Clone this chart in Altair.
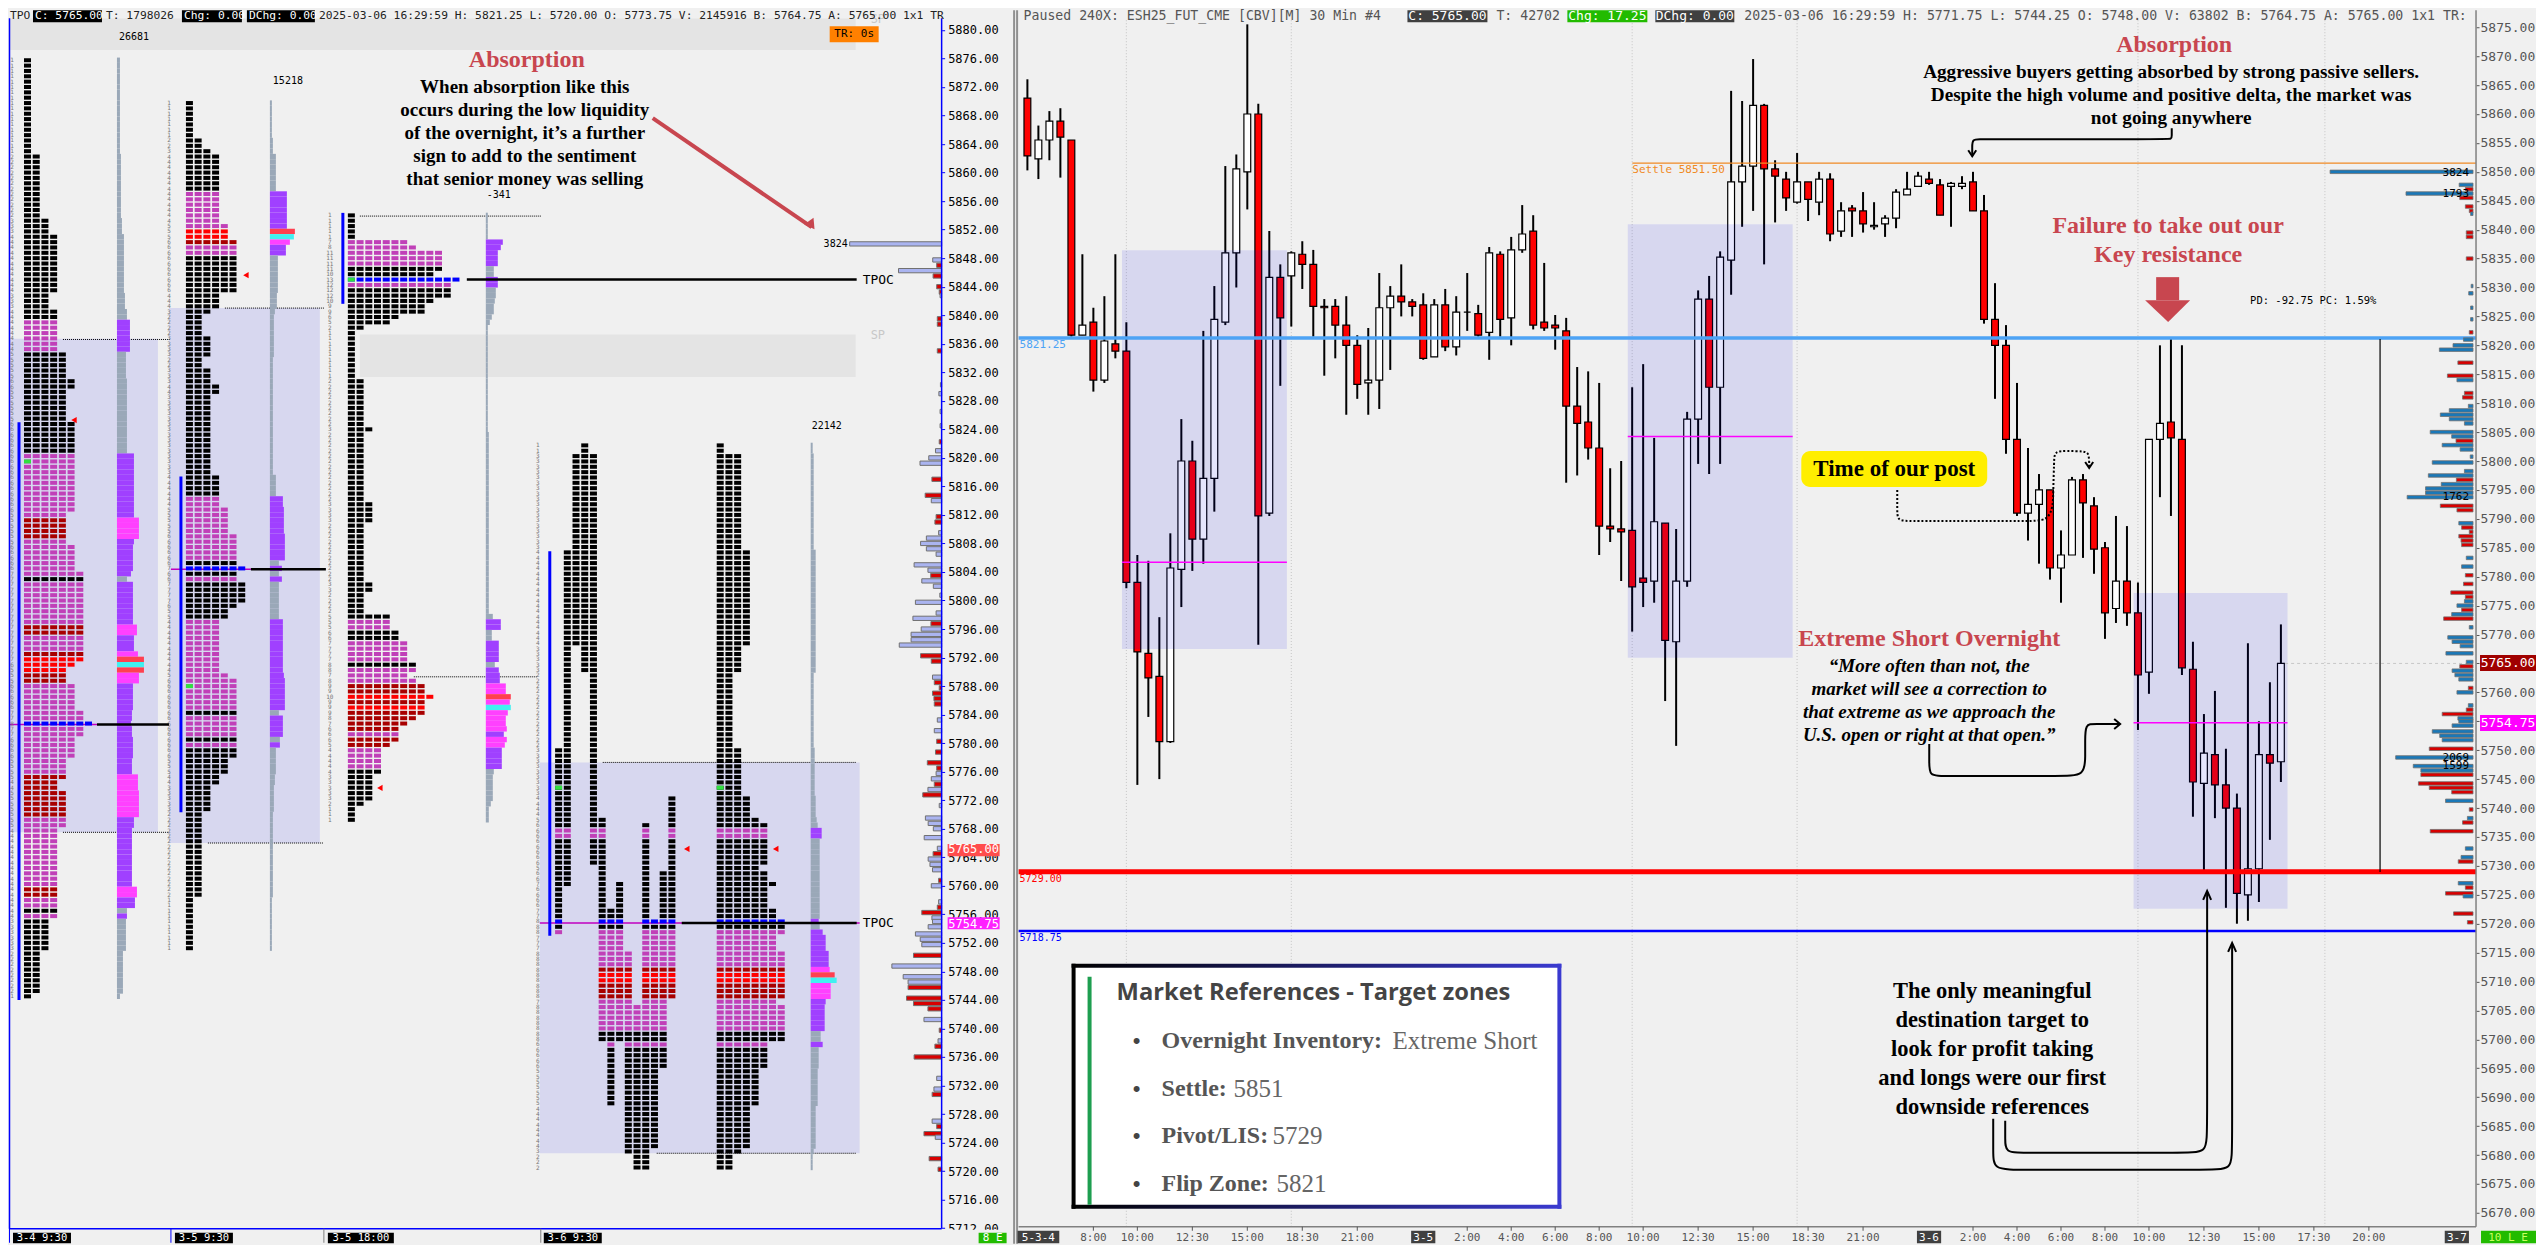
import altair as alt
import pandas as pd

alt.data_transformers.disable_max_rows()

# ---------------- candles (ESH25, 30 min) ----------------
highs = [5866,5858,5860.5,5861,5855.5,5835.75,5826.5,5828.5,5835.75,5824,5783.75,5782.75,5773,5787.5,5807.25,5803.5,5822.5,5830.25,5851,5853,
5875.5,5861.75,5839.75,5834,5836.25,5838,5836.5,5828,5828,5828.5,5821.75,5823,5832.5,5830.25,5834,5828,5829,5828,5829.75,5828.5,
5832.5,5827,5837,5836.25,5838.75,5844.25,5842.5,5834.25,5825.25,5824.75,5816.25,5815.5,5813.5,5798.75,5800,5812.75,5816.75,5804,5789.25,5788.25,
5808.5,5829.5,5832,5836.25,5864,5862.25,5869.5,5861.75,5852,5850,5853.25,5848.25,5850,5849.75,5844.75,5844.25,5846.5,5844.75,5842.5,5847,
5850,5850,5850,5848.75,5848.25,5849.25,5850,5846,5830.75,5823.5,5813.5,5802.25,5797.75,5795,5788,5797.25,5797.75,5793.75,5786,5790.5,
5788.75,5779,5803.75,5820,5821.25,5820,5768.75,5756.25,5760.25,5750.25,5742.5,5768.5,5755,5761.75,5771.75]
lows = [5850.25,5848.75,5852,5849,5821.5,5821.75,5812,5813.5,5817.75,5778,5744,5755.75,5745,5751.25,5774.75,5781,5782.25,5791.25,5823.5,5830,
5843.5,5768.25,5790.5,5813,5823.25,5829.75,5821.5,5814.75,5817.75,5808,5810.75,5808,5809,5815.75,5825,5825,5817.5,5818,5819,5818.25,
5822.5,5821.5,5817.5,5821.5,5820,5836,5822.75,5822.5,5819.25,5796.25,5797.5,5800.25,5783.75,5786,5779.25,5770.5,5774.75,5775.5,5758.5,5750.75,
5778.25,5799.5,5797.75,5799.5,5828.75,5840.5,5843.25,5834,5841.25,5843.25,5844.5,5841.5,5842.5,5838,5838.75,5838.75,5839.5,5840,5838.75,5840.25,
5846,5847.5,5847.75,5842.5,5840.5,5847,5843.25,5823.75,5810.75,5801.25,5790.5,5786.25,5782.25,5779.5,5775.5,5783.75,5783.25,5780.5,5769.25,5772,
5771.5,5753.5,5759.75,5793.75,5790.5,5763,5738.5,5729.25,5738.25,5722.75,5720,5720.5,5723.75,5734.5,5744.5]
opens = [5862.75,5852.25,5855.5,5858.75,5855.5,5821.75,5824,5814,5820.25,5819,5779,5766.75,5762.75,5751.5,5781.25,5800,5786.5,5797,5824,5836,
5850,5860,5791,5831.75,5832,5835.75,5834,5826.75,5826.75,5823.5,5820,5813.5,5814,5826.5,5828.5,5827.5,5827,5818,5827,5819.75,
5825.75,5825.5,5822.25,5835.75,5824.75,5836.5,5839.75,5824,5823.5,5822.5,5809.5,5806.75,5802.25,5788.75,5788.25,5788,5779.75,5779.25,5789.25,5768.75,
5779.25,5807.25,5828,5812.75,5834.75,5848.25,5851,5861.5,5850.5,5848.75,5844.75,5848.25,5844.75,5848.75,5839.75,5843.75,5843.25,5840.5,5841,5842,
5846,5847.5,5848.75,5847.75,5847.5,5847.5,5848.25,5843.25,5824.5,5820,5803.75,5791,5792.5,5795,5781.5,5783.75,5796.75,5792.25,5785,5774.5,
5779.25,5773.75,5763.5,5803.75,5806.75,5803.75,5764,5744.25,5749.25,5744,5740,5725,5729.5,5749.25,5748]
closes = [5852.75,5855.5,5858.75,5856,5821.75,5823.5,5814,5820.75,5819,5779,5767,5762.5,5751.5,5781.5,5800,5786.5,5797,5824.5,5836,5850.5,
5860,5790.5,5831.75,5824.75,5836,5834,5826.75,5826.5,5823.5,5820,5813.25,5814,5826.5,5828.5,5827.5,5826.75,5817.75,5827,5819.75,5825.75,
5825.75,5821.75,5836,5824.5,5836.5,5839.25,5823.5,5823,5823,5809.5,5806.5,5802.25,5788.75,5788.25,5787.75,5778.25,5779,5789.5,5769,5779.25,
5807.25,5828,5812.75,5835.25,5848.25,5851,5861.5,5850.5,5849.25,5845.5,5848.25,5845.25,5848.75,5839.25,5843.25,5843.25,5841,5840.75,5842,5846.5,
5847,5849.25,5848,5842.5,5848,5848,5843.25,5824.5,5820,5803.75,5791,5792.5,5795,5781.5,5783.75,5796.75,5792.75,5784.75,5773.75,5779.25,
5773.75,5763,5803.75,5806.5,5804,5764.25,5744.5,5749.5,5744,5740,5725.25,5729.5,5749.25,5747.75,5765]

# ---------------- volume by price (both panels) ----------------
vol_prices = [5850,5847.75,5847,5846.25,5845.5,5844,5843.25,5842.75,5839.5,5838.75,5835,5830.25,5829,5826.5,5824.5,5822.25,5821,5820,5819.25,5817,
5814.75,5814,5811.75,5811,5809.5,5808.75,5808,5807.25,5806.5,5805,5804.25,5803.5,5802.75,5802,5800.75,5799.75,5798.25,5797.5,5796.75,5796,
5795.25,5794.5,5793.75,5792.25,5791.5,5789.25,5788.5,5787.75,5787,5786.25,5785.5,5783.25,5781.75,5780.25,5778.75,5777.25,5776.5,5775.75,5775,5774.25,
5773.5,5772.75,5771.25,5769.5,5768.75,5768,5766.75,5765.25,5764.5,5763.75,5763,5762.25,5760.75,5760,5757.75,5757,5756.25,5755.5,5755,5754.25,
5753.25,5752.5,5751.75,5750.25,5748.75,5747.25,5746.5,5745.75,5744.25,5743.5,5742.75,5741.25,5739.75,5738.25,5737.5,5736,5733,5731.5,5730.75,5727,
5726.25,5725.25,5724.75,5721.75,5720.25]
vol_sizes = [3824,370,205,1793,355,205,100,65,180,180,180,50,115,65,65,100,255,535,900,405,
685,430,230,280,125,635,875,635,230,1145,570,455,825,345,75,1090,230,1195,445,850,
1270,1270,1762,875,430,380,305,100,380,320,305,180,305,205,255,595,205,230,430,305,
570,785,100,675,560,345,725,180,355,560,485,380,125,430,125,180,825,405,380,560,
1090,890,825,1170,2069,1599,1395,1395,1460,1170,570,735,100,150,280,1145,205,320,395,395,
205,735,265,520,150]
vol_sides = ['b','b','r','b','r','r','r','b','r','r','r','b','b','b','b','r','b','b','b','r',
'r','b','r','r','b','b','b','b','b','b','b','r','b','b','b','b','b','b','r','b',
'b','b','b','r','r','b','r','r','r','r','r','b','b','r','r','r','r','b','b','r',
'b','r','b','b','b','b','b','b','r','b','b','b','r','b','b','r','r','b','b','b',
'b','b','b','r','b','b','b','r','r','r','r','b','r','b','r','r','b','b','r','b',
'r','r','b','r','r']

# ---------------- TPO profiles: (rows, letters wide, colour key, volume width) ----------------
runs_a = [(18,1,'k',3),(12,2,'k',4),(3,3,'k',5),(11,4,'k',7),(3,3,'k',8),(2,4,'k',10),(6,4,'p',13),(5,5,'k',9),(2,6,'k',10),(6,5,'k',10),(6,6,'k',10),
(11,6,'p',17),(1,5,'p',17),(4,5,'d',22),(1,5,'p',17),(5,6,'p',16),(1,7,'p',14),(1,7,'k',10),(8,7,'p',16),(2,7,'d',20),(3,7,'p',17),(1,7,'d',21),(1,7,'r',27),(1,6,'c',27),(1,5,'r',27),(2,5,'d',22),
(5,6,'p',16),(2,7,'p',15),(1,8,'b',14),(2,7,'p',15),(4,6,'p',16),(3,5,'p',15),(1,5,'d',21),(2,4,'d',21),(5,5,'d',22),(2,5,'p',17),(11,4,'p',15),(2,4,'d',20),(2,4,'p',18),(1,4,'k',10),(1,4,'p',10),(6,3,'k',9),(8,2,'k',6),(1,1,'k',3)]
runs_b = [(7,1,'k',2),(2,2,'k',3),(1,3,'k',3),(7,4,'k',6),(6,4,'p',17),(1,5,'p',17),(1,5,'r',25),(1,5,'c',24),(1,6,'d',20),(2,6,'p',16),(7,6,'k',8),(3,4,'k',7),(1,3,'k',5),(4,2,'k',4),(4,3,'k',4),(2,2,'k',3),(3,3,'k',3),(2,4,'k',3),(15,3,'k',3),(4,4,'k',6),
(2,4,'p',13),(5,5,'p',14),(5,6,'p',15),(1,6,'k',9),(1,7,'b',12),(1,6,'k',9),(1,6,'p',12),(4,7,'k',9),(1,6,'k',9),(2,5,'k',9),(10,4,'p',13),(1,5,'p',14),(6,6,'p',15),(1,6,'k',9),(4,6,'p',13),(1,6,'k',10),(1,6,'p',10),(2,6,'k',6),(3,5,'k',6),(2,4,'k',5),(5,3,'k',4),(16,2,'k',3),(10,1,'k',2)]
runs_c = [(5,1,'k',2),(1,7,'p',17),(1,8,'p',15),(3,11,'p',12),(1,11,'k',8),(1,10,'k',8),(1,13,'b',12),(1,12,'p',12),(2,12,'k',10),(1,10,'k',9),(2,9,'k',8),(1,6,'k',6),(1,5,'k',4),(1,2,'k',2),(9,1,'k',2),(9,2,'k',2),(1,3,'k',2),(13,2,'k',3),(4,3,'k',3),(11,2,'k',3),(2,3,'k',3),(4,2,'k',3),(1,5,'k',7),
(2,5,'p',15),(2,6,'k',6),(4,7,'p',13),(1,8,'k',9),(1,8,'p',13),(1,7,'p',14),(1,8,'p',14),(2,9,'d',20),(1,10,'r',25),(1,9,'d',24),(1,9,'c',25),(1,9,'d',22),(1,8,'d',20),(1,7,'d',20),(1,6,'d',21),(1,6,'p',18),(1,6,'d',21),(1,5,'d',19),(4,4,'p',16),(1,4,'k',8),(5,3,'k',7),(1,2,'k',5),(3,1,'k',3)]
runs_d = [(2,1,'k',2),(18,3,'k',3),(18,4,'k',5),(5,3,'k',5),(14,2,'k',3),(9,3,'k',4),(4,4,'k',5),(1,5,'k',6),(1,6,'k',7),(2,6,'p',11),(5,6,'k',9),(1,5,'k',9),(2,6,'k',9),(1,7,'k',9),(4,6,'k',9),(2,7,'k',9),(1,8,'b',8),(1,8,'k',9),(1,8,'p',12),(3,7,'p',15),(3,8,'p',18),
(1,8,'d',19),(1,8,'r',24),(1,8,'c',26),(3,8,'d',20),(1,7,'p',15),(5,8,'p',14),(2,8,'k',10),(1,6,'p',12),(4,6,'k',8),(7,5,'k',7),(8,4,'k',5),(1,3,'k',3),(3,2,'k',2)]
# split profile of the 3-6 session: (rows, occupied columns, colour key)
split_d = [(2,[3],'k'),(18,[2,3,4],'k'),(18,[1,2,3,4],'k'),(5,[1,3,4],'k'),(14,[1,4],'k'),(9,[0,1,4],'k'),(4,[0,1,4,13],'k'),(1,[0,1,4,5,13],'k'),(1,[0,1,4,5,10,13],'k'),
(2,[0,1,4,5,10,13],'p'),(5,[0,1,4,5,10,13],'k'),(1,[0,1,5,10,13],'k'),(2,[0,1,5,10,12,13],'k'),(1,[0,1,5,7,10,12,13],'k'),(4,[0,5,7,10,12,13],'k'),(2,[0,5,6,7,10,12,13],'k'),
(1,[0,5,6,7,10,11,12,13],'b'),(1,[0,5,6,7,10,11,12,13],'k'),(1,[0,5,6,7,10,11,12,13],'p'),(3,[5,6,7,10,11,12,13],'p'),(3,[5,6,7,8,10,11,12,13],'p'),
(1,[5,6,7,8,10,11,12,13],'d'),(2,[5,6,7,8,10,11,12,13],'r'),(3,[5,6,7,8,10,11,12,13],'d'),(1,[5,6,7,8,10,11,12],'p'),(5,[5,6,7,8,9,10,11,12],'p'),(2,[5,6,7,8,9,10,11,12],'k'),
(1,[6,8,9,10,11,12],'p'),(4,[6,8,9,10,11,12],'k'),(7,[6,8,9,10,11],'k'),(8,[8,9,10,11],'k'),(1,[8,9,10],'k'),(3,[9,10],'k')]

TPO_COL = {'k':'#000000','p':'#c040b8','d':'#a80000','r':'#ff0000','c':'#ff0000','b':'#0000ff'}
VOL_COL = {'k':'#9aa8b8','p':'#a040ff','d':'#ff40ff','r':'#ff4050','c':'#40f0f0','b':'#a040ff'}
LETTER = 8.72

cells, numbers, volbars = [], [], []
def add_runs(runs, top, x0, numx, volx):
    p = top
    for n, w, key, v in runs:
        for _ in range(n):
            for k in range(w):
                cells.append(dict(x=x0+k*LETTER, x2=x0+k*LETTER+7, y=p+.28, y2=p-.28, c=TPO_COL[key]))
            if numx is not None:
                numbers.append(dict(x=numx, y=p, t=str(w)))
            volbars.append(dict(x=volx, x2=volx+v, y=p+.375, y2=p-.375, c=VOL_COL[key]))
            p -= .75
add_runs(runs_a, 5875.75, 23, 11, 116)
add_runs(runs_b, 5869.75, 185, 168, 269)
add_runs(runs_c, 5854.0, 347, 329, 485)
add_runs(runs_d, 5821.75, 716, None, 810)
p = 5821.75
for n, cols, key in split_d:
    for _ in range(n):
        for k in cols:
            cells.append(dict(x=554.3+k*LETTER, x2=554.3+k*LETTER+7, y=p+.28, y2=p-.28, c=TPO_COL[key]))
        numbers.append(dict(x=537, y=p, t=str(len(cols))))
        p -= .75
green = [(23,5819.5),(185,5788),(347,5845),(554.3,5773.75),(716,5773.75)]
for gx, gp in green:
    cells.append(dict(x=gx, x2=gx+7, y=gp+.28, y2=gp-.28, c='#30e040'))

# ---------------- scales ----------------
LX = (8, 1010); LY = (5880-(1242-27.7)/7.135, 5880-(8-27.7)/7.135)
RX = ((1010-1026.8)/11, (2536-1026.8)/11); RY = (5875-(1242-25)/5.786, 5875-(8-25)/5.786)

class Panel:
    def __init__(s, xd, yd, fx, fy, yaxis):
        s.xs = alt.Scale(domain=list(xd), nice=False, zero=False)
        s.ys = alt.Scale(domain=list(yd), nice=False, zero=False)
        s.fx, s.fy, s.layers, s.yaxis = fx, fy, [], yaxis
    def X(s, f='x'): return alt.X(f+':Q', scale=s.xs, axis=None, title=None)
    def Y(s, f='y'): return alt.Y(f+':Q', scale=s.ys, axis=s.yaxis, title=None)
    def add(s, c): s.layers.append(c)
    # rectangle from corner positions given on the panel's pixel grid
    def rect(s, x0, y0, x1, y1, color, **kw):
        d = pd.DataFrame([dict(x=s.fx(x0), x2=s.fx(x1), y=s.fy(y0), y2=s.fy(y1))])
        s.add(alt.Chart(d).mark_rect(color=color, **kw).encode(x=s.X(), x2='x2:Q', y=s.Y(), y2='y2:Q'))
    def band(s, x0, x1, p0, p1, color, **kw):
        d = pd.DataFrame([dict(x=s.fx(x0), x2=s.fx(x1), y=p0, y2=p1)])
        s.add(alt.Chart(d).mark_rect(color=color, **kw).encode(x=s.X(), x2='x2:Q', y=s.Y(), y2='y2:Q'))
    def hline(s, x0, x1, price, color, width=1, dash=None):
        kw = dict(strokeDash=dash) if dash else {}
        d = pd.DataFrame([dict(x=s.fx(x0), x2=s.fx(x1), y=price)])
        s.add(alt.Chart(d).mark_rule(color=color, strokeWidth=width, **kw).encode(x=s.X(), x2='x2:Q', y=s.Y()))
    def vline(s, x, y0, y1, color, width=1, dash=None):
        kw = dict(strokeDash=dash) if dash else {}
        d = pd.DataFrame([dict(x=s.fx(x), y=s.fy(y0), y2=s.fy(y1))])
        s.add(alt.Chart(d).mark_rule(color=color, strokeWidth=width, **kw).encode(x=s.X(), y=s.Y(), y2='y2:Q'))
    def path(s, pts, color='#000000', width=2, dash=None, interp='linear'):
        d = pd.DataFrame([dict(x=s.fx(a), y=s.fy(b), i=i) for i, (a, b) in enumerate(pts)])
        kw = dict(strokeDash=dash) if dash else {}
        s.add(alt.Chart(d).mark_line(color=color, strokeWidth=width, interpolate=interp, **kw).encode(x=s.X(), y=s.Y(), order='i:Q'))
    def text(s, rows, font='DejaVu Sans Mono', size=11, color='#000000', align='left', weight='normal', style='normal'):
        d = pd.DataFrame([dict(x=s.fx(a), y=s.fy(b), t=t) for a, b, t in rows])
        s.add(alt.Chart(d).mark_text(font=font, fontSize=size, color=color, align=align, baseline='middle',
                                     fontWeight=weight, fontStyle=style).encode(x=s.X(), y=s.Y(), text='t:N'))

ly_ticks = list(range(5880, 5708, -4))
ry_ticks = list(range(5875, 5665, -5))
L = Panel(LX, LY, lambda x: x, lambda y: 5880-(y-27.7)/7.135,
          alt.Axis(orient='right', offset=-69, values=ly_ticks, format='.2f', grid=False, domain=False, tickColor='#0000ff', tickSize=3,
                   labelColor='#000000', labelFont='DejaVu Sans Mono', labelFontSize=12, labelPadding=3, labelOverlap=False, labelFlush=False))
R = Panel(RX, RY, lambda x: (x-1026.8)/11, lambda y: 5875-(y-25)/5.786,
          alt.Axis(orient='right', offset=-60, values=ry_ticks, format='.2f', grid=False, domain=False, tickColor='#555555', tickSize=3,
                   labelColor='#555555', labelFont='DejaVu Sans Mono', labelFontSize=13, labelPadding=1, labelOverlap=False, labelFlush=False))
SERIF = 'Liberation Serif'
RED = '#c8464f'
FILLCELL = alt.Color('c:N', scale=None)

# ---------------- left panel ----------------
L.band(8, 855, 5881.6, 5877.2, '#e4e4e4')
L.band(359, 855, 5837.3, 5831.35, '#e4e4e4')
for x0, x1, p0, p1 in [(8,157,5836.7,5767.5),(168,319,5841,5766),(539,859,5777.3,5722.5)]:
    L.band(x0, x1, p0, p1, '#0000f0', opacity=.1)
for x0, x1, pr in [(62,170,5836.6),(62,168,5767.5),(224,323,5841),(207,323,5766),(359,540,5853.9),(413,537,5789.3),(602,856,5777.3),(656,856,5722.5)]:
    L.hline(x0, x1, pr, '#000000', 1, [1,1])
L.hline(8, 96, 5782.6, '#c000c0', 1.5)
L.hline(170, 250, 5804.4, '#c000c0', 1.5)
L.hline(539, 859, 5754.8, '#c000c0', 1.5)
L.add(alt.Chart(pd.DataFrame(cells)).mark_rect().encode(x=L.X(), x2='x2:Q', y=L.Y(), y2='y2:Q', color=FILLCELL))
L.add(alt.Chart(pd.DataFrame(volbars)).mark_rect().encode(x=L.X(), x2='x2:Q', y=L.Y(), y2='y2:Q', color=FILLCELL))
L.add(alt.Chart(pd.DataFrame(numbers)).mark_text(fontSize=6, color='#777777', font='DejaVu Sans Mono').encode(x=L.X(), y=L.Y(), text='t:N'))
for x, p0, p1 in [(18,5825,5744),(180,5817.4,5770.3),(342,5854.35,5841.6),(549,5806.9,5753)]:
    d = pd.DataFrame([dict(x=x, y=p0, y2=p1)])
    L.add(alt.Chart(d).mark_rule(color='#0000ff', strokeWidth=3).encode(x=L.X(), y=L.Y(), y2='y2:Q'))
for x0, x1, pr in [(96,168,5782.6),(250,325,5804.4),(466,856,5845),(681,856,5754.8)]:
    L.hline(x0, x1, pr, '#000000', 2.5)
L.text([(862,277.5,'TPOC'),(862,921,'TPOC')], size=13)
tri = pd.DataFrame([dict(x=245,y=L.fy(273)),dict(x=379,y=L.fy(786)),dict(x=686,y=L.fy(847)),dict(x=775,y=L.fy(847)),dict(x=73,y=L.fy(418))])
L.add(alt.Chart(tri).mark_point(shape='triangle-left', filled=True, color='#ff0000', size=40, opacity=1).encode(x=L.X(), y=L.Y()))
L.text([(133,35,'26681'),(287,79,'15218'),(498,193,'-341'),(826,424,'22142')], size=10, align='center')
L.text([(847,242,'3824')], size=10, align='right')
L.text([(870,333,'SP'),(870,17,'SP')], size=12, color='#c8c8c8')
# volume by price on the left panel
vol = pd.DataFrame({'p': vol_prices, 'v': vol_sizes, 's': vol_sides})
vl = pd.DataFrame({'x': 941-vol.v*92/3824, 'x2': 941, 'y': vol.p+.3, 'y2': vol.p-.3,
                   'c': ['#aab4f0' if s == 'b' else '#d80000' for s in vol.s]})
L.add(alt.Chart(vl).mark_rect(stroke='#707070', strokeWidth=1).encode(x=L.X(), x2='x2:Q', y=L.Y(), y2='y2:Q', color=FILLCELL))
# annotation
L.text([(526,58,'Absorption')], font=SERIF, size=24, color=RED, align='center', weight='bold')
L.text([(524,85,'When absorption like this'),(524,108,'occurs during the low liquidity'),(524,131,'of the overnight, it’s a further'),
        (524,154,'sign to add to the sentiment'),(524,177,'that senior money was selling')], font=SERIF, size=19, align='center', weight='bold')
L.path([(652,116),(811,225)], color=RED, width=4)
L.add(alt.Chart(pd.DataFrame([dict(x=811,y=L.fy(223))])).mark_point(shape='triangle-up', angle=145, filled=True, color=RED, size=130, opacity=1).encode(x=L.X(), y=L.Y()))
# chrome
L.vline(941, 16, 1227, '#0000ff', 1.5)
L.vline(8.5, 16, 1227, '#0000ff', 1.5)
L.rect(8, 1228, 1010, 1242, '#f0f0f0')
L.hline(8, 941, L.fy(1227), '#0000ff', 1.5)
for x, c in [(8.5,'#0000ff'),(170,'#0000ff'),(323,'#808080'),(540,'#808080')]:
    L.vline(x, 1227, 1241, c, 1)
for x0, x1, t in [(12,70,'3-4 9:30'),(174,232,'3-5 9:30'),(327,393,'3-5 18:00'),(543,601,'3-6 9:30')]:
    L.rect(x0, 1231, x1, 1241.5, '#000000')
    L.text([((x0+x1)/2, 1236, t)], size=10.5, color='#ffffff', align='center')
L.rect(978, 1231, 1006, 1241.5, '#22bb00')
L.text([(992,1236,'8 E')], size=11, color='#ffffff', align='center')
L.rect(829, 24, 878, 40, '#ff8000')
L.text([(853.5,32,'TR: 0s')], size=11, align='center')
for x0, x1 in [(32,101),(181,241),(246,314)]:
    L.rect(x0, 8, x1, 20, '#000000')
L.text([(9,14,'TPO'),(105,14,'T: 1798026'),(318,14,'2025-03-06 16:29:59 H: 5821.25 L: 5720.00 O: 5773.75 V: 2145916 B: 5764.75 A: 5765.00 1x1 TR')], size=11.3, color='#222222')
L.text([(34,14,'C: 5765.00'),(183,14,'Chg: 0.00'),(248,14,'DChg: 0.00')], size=11.3, color='#ffffff')
L.band(947, 999, 5765+.85, 5765-.85, '#ff4d4d')
L.text([(973,847,'5765.00')], size=12, color='#ffffff', align='center')
L.band(947, 999, 5754.75+.85, 5754.75-.85, '#ff20ff')
L.text([(973,922,'5754.75')], size=12, color='#ffffff', align='center')

# ---------------- right panel ----------------
grid_idx = [9,24,55,70,101,118]
R.add(alt.Chart(pd.DataFrame({'x': grid_idx, 'y': [R.fy(18)]*6, 'y2': [R.fy(1225)]*6})).mark_rule(color='#c4c4c4', strokeDash=[1,2]).encode(x=R.X(), y=R.Y(), y2='y2:Q'))
candles = pd.DataFrame({'x': range(len(opens)), 'o': opens, 'h': highs, 'l': lows, 'c_': closes})
candles['x0'] = candles.x-.31; candles['x1'] = candles.x+.31
candles['c'] = ['#ff0000' if c < o else '#ffffff' for o, c in zip(opens, closes)]
R.add(alt.Chart(candles).mark_rule(color='#000000', strokeWidth=2).encode(x=R.X(), y=R.Y('l'), y2='h:Q'))
R.add(alt.Chart(candles).mark_rect(stroke='#000000', strokeWidth=1.2).encode(x=R.X('x0'), x2='x1:Q', y=R.Y('o'), y2='c_:Q', color=FILLCELL))
ZP = [(8.6,23.6,5836.46,5767.5,5782.5),(54.6,69.6,5840.95,5766,5804.25),(100.6,114.6,5777.2,5722.6,5754.75)]
for a, b, p0, p1, mid in ZP:
    z = pd.DataFrame([dict(x=a, x2=b, y=p0, y2=p1, m=mid)])
    R.add(alt.Chart(z).mark_rect(color='#0000f0', opacity=.1).encode(x=R.X(), x2='x2:Q', y=R.Y(), y2='y2:Q'))
    R.add(alt.Chart(z).mark_rule(color='#ff00ff', strokeWidth=1.5).encode(x=R.X(), x2='x2:Q', y=R.Y('m')))
levels = [(5821.25,'#4da3f5',3.5),(5729,'#ff0000',5),(5718.75,'#0000ff',2.5)]
for pr, col, w in levels:
    R.hline(1018, 2476, pr, col, w)
R.hline(1632, 2476, 5851.5, '#f08a24', 1.2)
R.hline(2285, 2472, 5765, '#c8c8c8', 1, [3,3])
R.text([(1019,343,'5821.25')], size=11, color='#4da3f5')
R.text([(1019,877,'5729.00')], size=10, color='#ff0000')
R.text([(1019,936,'5718.75')], size=10, color='#0000ff')
R.text([(1632,168,'Settle 5851.50')], size=11, color='#f08a24')
R.vline(2380, 337, 870, '#000000', 1.2)
R.text([(2250,299,'PD: -92.75 PC: 1.59%')], size=10.5)
vr = pd.DataFrame({'x': R.fx(2473)-vol.v*143/3824/11, 'x2': R.fx(2473), 'y': vol.p+.3, 'y2': vol.p-.3,
                   'c': ['#1a78b8' if s == 'b' else '#d80000' for s in vol.s]})
R.add(alt.Chart(vr).mark_rect(stroke='#707070', strokeWidth=.8).encode(x=R.X(), x2='x2:Q', y=R.Y(), y2='y2:Q', color=FILLCELL))
R.text([(2469,170.5,'3824'),(2469,192,'1793'),(2469,495,'1762'),(2469,756,'2069'),(2469,764,'1599')], size=11, align='right')
# annotations
R.text([(2174,43,'Absorption')], font=SERIF, size=24, color=RED, align='center', weight='bold')
R.text([(2171,70,'Aggressive buyers getting absorbed by strong passive sellers.'),(2171,93,'Despite the high volume and positive delta, the market was'),(2171,116,'not going anywhere')],
       font=SERIF, size=19.2, align='center', weight='bold')
R.path([(2171.6,126),(2171.6,134),(2171.6,137),(2165,137),(1980,137),(1972,137),(1972,145),(1972,154)], width=2, interp='basis')
R.path([(1968,148),(1972,154),(1976,148)], width=2)
R.text([(2168,224,'Failure to take out our'),(2168,253,'Key resistance')], font=SERIF, size=24, color=RED, align='center', weight='bold')
R.rect(2156, 275, 2179, 298, RED)
tr = pd.DataFrame([dict(x=R.fx(a), y=R.fy(298), y2=R.fy(b)) for a, b in [(2145,298),(2168,320),(2190,298)]])
R.add(alt.Chart(tr).mark_area(color=RED).encode(x=R.X(), y=R.Y(), y2='y2:Q'))
R.rect(1801, 449, 1987, 485, '#ffee00', cornerRadius=9)
R.text([(1894,467,'Time of our post')], font=SERIF, size=23, align='center', weight='bold')
R.path([(1897,488),(1897,507),(1897,519),(1909,519),(2028,519),(2047,519),(2053,505),(2053,487),(2054,460),(2054,449),(2066,449),(2085,449),(2089,452),(2089,465)], width=2, dash=[2,2], interp='basis')
R.path([(2085,460),(2089,466),(2093,460)], width=2)
R.text([(1929,637,'Extreme Short Overnight')], font=SERIF, size=24, color=RED, align='center', weight='bold')
R.text([(1929,664,'“More often than not, the'),(1929,687,'market will see a correction to'),(1929,710,'that extreme as we approach the'),(1929,733,'U.S. open or right at that open.”')],
       font=SERIF, size=19, align='center', weight='bold', style='italic')
R.path([(1929,742),(1929,760),(1929,774),(1942,774),(2061,774),(2085,774),(2085,753),(2085,740),(2085,722),(2094,722),(2120,722)], width=2, interp='basis')
R.path([(2114,717),(2120,722),(2114,727)], width=2)
R.text([(1992,989,'The only meaningful'),(1992,1018,'destination target to'),(1992,1047,'look for profit taking'),(1992,1076,'and longs were our first'),(1992,1105,'downside references')],
       font=SERIF, size=22.5, align='center', weight='bold')
R.path([(2005,1119),(2005,1137),(2005,1151),(2023,1151),(2184,1151),(2207,1151),(2207,1130),(2207,890)], width=2, interp='basis')
R.path([(2203,898),(2207,889),(2211,898)], width=2)
R.path([(1993,1117),(1993,1150),(1993,1168),(2018,1168),(2209,1168),(2232,1168),(2232,1147),(2232,942)], width=2, interp='basis')
R.path([(2228,950),(2232,941),(2236,950)], width=2)
# market references card
R.rect(1071, 962, 1561, 1207, '#ffffff')
grad = alt.LinearGradient(gradient='linear', stops=[alt.GradientStop(color='#000000', offset=0), alt.GradientStop(color='#3a3ad0', offset=1)], x1=0, x2=1, y1=0, y2=0)
d_top = pd.DataFrame([dict(x=R.fx(1071), x2=R.fx(1561), y=R.fy(962), y2=R.fy(966))])
d_bot = pd.DataFrame([dict(x=R.fx(1071), x2=R.fx(1561), y=R.fy(1203), y2=R.fy(1207))])
for d in (d_top, d_bot):
    R.add(alt.Chart(d).mark_rect(color=grad).encode(x=R.X(), x2='x2:Q', y=R.Y(), y2='y2:Q'))
R.rect(1071, 962, 1075, 1207, '#000000')
R.rect(1557, 962, 1561, 1207, '#3a3ad0')
R.rect(1087, 975, 1091, 1203, '#1e9e50')
R.text([(1116,991,'Market References - Target zones')], font='Open Sans', size=23.7, color='#444444', weight='bold')
R.text([(1136,1039,'•'),(1136,1087,'•'),(1136,1134,'•'),(1136,1182,'•')], font='Liberation Sans', size=22, color='#444444', align='center')
R.text([(1161,1039,'Overnight Inventory:'),(1161,1087,'Settle:'),(1161,1134,'Pivot/LIS:'),(1161,1182,'Flip Zone:')], font=SERIF, size=24, color='#555555', weight='bold')
R.text([(1392,1039,'Extreme Short'),(1233,1087,'5851'),(1272,1134,'5729'),(1276,1182,'5821')], font=SERIF, size=25, color='#666666')
# chrome
R.vline(1013.5, 8, 1242, '#909090', 2)
R.vline(1016.5, 8, 1242, '#909090', 2)
R.vline(2476, 8, 1225, '#808080', 1.5)
R.rect(1018, 1226, 2536, 1242, '#f0f0f0')
R.hline(1018, 2476, R.fy(1225), '#808080', 1.5)
time_idx = [6,10,15,20,25,30,40,44,48,52,56,61,66,71,76,86,90,94,98,102,107,112,117,122]
time_lab = ['8:00','10:00','12:30','15:00','18:30','21:00','2:00','4:00','6:00','8:00','10:00','12:30','15:00','18:30','21:00','2:00','4:00','6:00','8:00','10:00','12:30','15:00','17:30','20:00']
day_idx = [1,36,82,130]
day_lab = ['5-3-4','3-5','3-6','3-7']
tf = pd.DataFrame({'x': time_idx, 'y': [R.fy(1236)]*len(time_idx), 't': time_lab, 'y0': [R.fy(1225)]*len(time_idx), 'y1': [R.fy(1229)]*len(time_idx)})
R.add(alt.Chart(tf).mark_rule(color='#555555').encode(x=R.X(), y=R.Y('y0'), y2='y1:Q'))
R.add(alt.Chart(tf).mark_text(font='DejaVu Sans Mono', fontSize=11, color='#555555').encode(x=R.X(), y=R.Y(), text='t:N'))
df = pd.DataFrame({'x': day_idx, 'x0': [i-1.9 if i == 1 else i-1.1 for i in day_idx], 'x1': [i+1.9 if i == 1 else i+1.1 for i in day_idx],
                   'y': [R.fy(1236)]*4, 'y0': [R.fy(1229)]*4, 'y1': [R.fy(1241.5)]*4, 't': day_lab})
R.add(alt.Chart(df).mark_rect(color='#404040').encode(x=R.X('x0'), x2='x1:Q', y=R.Y('y0'), y2='y1:Q'))
R.add(alt.Chart(df).mark_text(font='DejaVu Sans Mono', fontSize=11, color='#ffffff').encode(x=R.X(), y=R.Y(), text='t:N'))
R.rect(2481, 1229, 2536, 1241.5, '#22bb00')
R.text([(2508,1236,'10 L E')], size=11, color='#c8ff60', align='center')
# header
R.text([(1023,13.5,'Paused 240X: ESH25_FUT_CME [CBV][M]  30 Min  #4'),(1496,13.5,'T: 42702'),
        (1744,13.5,'2025-03-06 16:29:59 H: 5771.75 L: 5744.25 O: 5748.00 V: 63802 B: 5764.75 A: 5765.00 1x1 TR:')], size=13.2, color='#555555')
for x0, x1, c in [(1407,1487,'#404040'),(1567,1647,'#22bb00'),(1655,1734,'#404040')]:
    R.rect(x0, 8, x1, 20, c)
R.text([(1447,13.5,'C: 5765.00'),(1607,13.5,'Chg: 17.25'),(1694.5,13.5,'DChg: 0.00')], size=13, color='#ffffff', align='center')
# price tags
R.rect(2480, 653, 2536, 669, '#a00000')
R.text([(2508,661,'5765.00')], size=13, color='#ffffff', align='center')
R.rect(2480, 713, 2536, 729, '#ff00ff')
R.text([(2508,721,'5754.75')], size=13, color='#ffffff', align='center')

left = alt.layer(*L.layers).properties(width=1002, height=1234)
right = alt.layer(*R.layers).properties(width=1526, height=1234)
chart = alt.hconcat(left, right, spacing=0, bounds='flush', padding=0, background='#f0f0f0').configure_view(stroke=None)
chart.save("out.html", embed_options={"renderer": "svg", "actions": False})
